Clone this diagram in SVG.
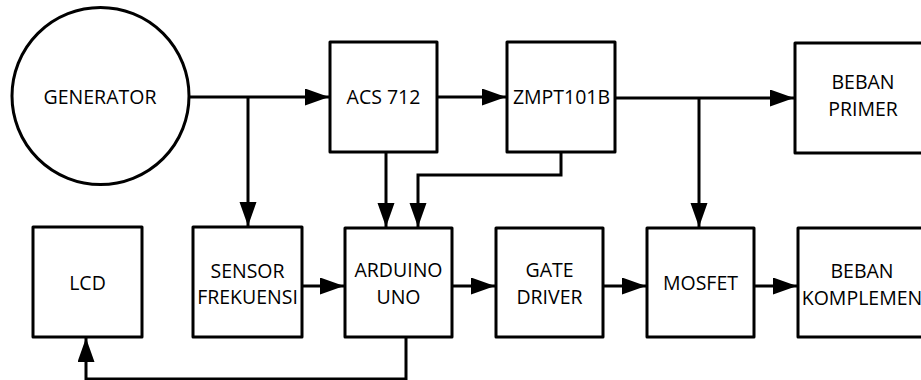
<svg xmlns="http://www.w3.org/2000/svg" width="921" height="380" viewBox="0 0 921 380">
<style>
.box{fill:#fff;stroke:#000;stroke-width:3;stroke-linejoin:round}
.t{font-family:"Open Sans","Noto Sans",sans-serif;font-size:19.5px;fill:#000;text-anchor:middle}
.c{fill:none;stroke:#000;stroke-width:3}
</style>
<defs>
<marker id="ah" markerUnits="userSpaceOnUse" markerWidth="25" markerHeight="18" refX="24" refY="8.5" orient="auto">
<path d="M0,0 L24,8.5 L0,17 z" fill="#000"/>
</marker>
</defs>
<rect width="921" height="380" fill="#fff"/>
<g id="connectors">
<path class="c" d="M189,97 H329" marker-end="url(#ah)"/>
<path class="c" d="M248,97 V226" marker-end="url(#ah)"/>
<path class="c" d="M437,97 H506" marker-end="url(#ah)"/>
<path class="c" d="M386,152 V227" marker-end="url(#ah)"/>
<path class="c" d="M561,152 V175 H418 V227" marker-end="url(#ah)"/>
<path class="c" d="M615,98 H794" marker-end="url(#ah)"/>
<path class="c" d="M699,98 V227" marker-end="url(#ah)"/>
<path class="c" d="M302,286 H344" marker-end="url(#ah)"/>
<path class="c" d="M452,286 H495" marker-end="url(#ah)"/>
<path class="c" d="M603,286 H646" marker-end="url(#ah)"/>
<path class="c" d="M754,286 H797" marker-end="url(#ah)"/>
<path class="c" d="M406,337 V379 H86 V338" marker-end="url(#ah)"/>
</g>
<g id="generator">
<circle cx="100.5" cy="96" r="88.5" fill="#fff" stroke="#000" stroke-width="3"/>
<text class="t" x="100" y="104">GENERATOR</text>
</g>
<g id="acs712">
<rect class="box" x="330" y="42" width="107" height="110"/>
<text class="t" x="383.5" y="104">ACS 712</text>
</g>
<g id="zmpt101b">
<rect class="box" x="507" y="42" width="108" height="110"/>
<text class="t" x="561.5" y="104">ZMPT101B</text>
</g>
<g id="beban-primer">
<rect class="box" x="795" y="43" width="140" height="110"/>
<text class="t" x="863" y="89">BEBAN</text>
<text class="t" x="863" y="116">PRIMER</text>
</g>
<g id="lcd">
<rect class="box" x="33" y="227" width="109" height="110"/>
<text class="t" x="87.5" y="290">LCD</text>
</g>
<g id="sensor-frekuensi">
<rect class="box" x="193" y="227" width="109" height="110"/>
<text class="t" x="247.5" y="278">SENSOR</text>
<text class="t" x="247.5" y="304">FREKUENSI</text>
</g>
<g id="arduino-uno">
<rect class="box" x="345" y="228" width="107" height="109"/>
<text class="t" x="398.5" y="277">ARDUINO</text>
<text class="t" x="398.5" y="304">UNO</text>
</g>
<g id="gate-driver">
<rect class="box" x="496" y="228" width="107" height="109"/>
<text class="t" x="549.5" y="277">GATE</text>
<text class="t" x="549.5" y="304">DRIVER</text>
</g>
<g id="mosfet">
<rect class="box" x="647" y="228" width="107" height="109"/>
<text class="t" x="700.5" y="290">MOSFET</text>
</g>
<g id="beban-komplemen">
<rect class="box" x="798" y="228" width="140" height="109"/>
<text class="t" x="862" y="278">BEBAN</text>
<text class="t" x="862" y="305">KOMPLEMEN</text>
</g>
</svg>
